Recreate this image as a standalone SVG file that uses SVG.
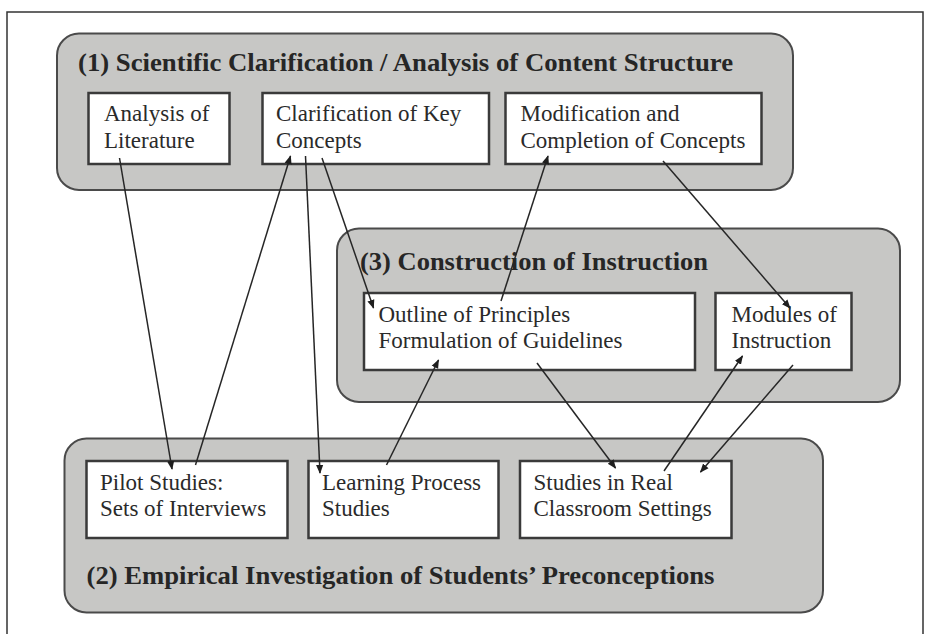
<svg xmlns="http://www.w3.org/2000/svg" width="935" height="634" viewBox="0 0 935 634">
<defs>
<style>
.grp{fill:#c7c7c5;stroke:#4a4a4a;stroke-width:2}
.box{fill:#ffffff;stroke:#3a3a3a;stroke-width:2.5}
.t{font-family:"Liberation Serif","Times New Roman",serif;font-size:23px;fill:#2a2a2a}
.h{font-family:"Liberation Serif","Times New Roman",serif;font-size:26px;font-weight:bold;fill:#262626}
.c{fill:none;stroke:#262626;stroke-width:1.5}
</style>
<marker id="ah" viewBox="0 0 10 10" refX="9" refY="5" markerWidth="9" markerHeight="9" markerUnits="userSpaceOnUse" orient="auto">
<path d="M0,1 L10,5 L0,9 z" fill="#1e1e1e"/>
</marker>
</defs>
<rect x="0" y="0" width="935" height="634" fill="#ffffff"/>
<path d="M7,634 V12 H923 V634" fill="none" stroke="#333" stroke-width="1.5"/>

<g id="group1">
<rect class="grp" x="57" y="33.5" width="736" height="156.5" rx="22"/>
<text class="h" x="78" y="71" textLength="655" lengthAdjust="spacingAndGlyphs">(1) Scientific Clarification / Analysis of Content Structure</text>
</g>
<g id="group3">
<rect class="grp" x="337" y="228.5" width="563" height="173.5" rx="22"/>
<text class="h" x="360" y="270" textLength="348" lengthAdjust="spacingAndGlyphs">(3) Construction of Instruction</text>
</g>
<g id="group2">
<rect class="grp" x="64.5" y="438.5" width="758.5" height="174" rx="22"/>
<text class="h" x="86.5" y="584" textLength="628" lengthAdjust="spacingAndGlyphs">(2) Empirical Investigation of Students’ Preconceptions</text>
</g>

<g id="n-analysis">
<rect class="box" x="88.5" y="93" width="141" height="71"/>
<text class="t" x="104" y="121">Analysis of</text>
<text class="t" x="104" y="147.5">Literature</text>
</g>
<g id="n-clarification">
<rect class="box" x="262.5" y="93" width="226.5" height="71"/>
<text class="t" x="276" y="121">Clarification of Key</text>
<text class="t" x="276" y="147.5">Concepts</text>
</g>
<g id="n-modification">
<rect class="box" x="505.5" y="93" width="256" height="71"/>
<text class="t" x="520.5" y="121">Modification and</text>
<text class="t" x="520.5" y="147.5">Completion of Concepts</text>
</g>
<g id="n-outline">
<rect class="box" x="364" y="293" width="331" height="77"/>
<text class="t" x="378.5" y="321.5">Outline of Principles</text>
<text class="t" x="378.5" y="347.8">Formulation of Guidelines</text>
</g>
<g id="n-modules">
<rect class="box" x="715.5" y="293" width="136" height="77"/>
<text class="t" x="731.5" y="321.5">Modules of</text>
<text class="t" x="731.5" y="347.8">Instruction</text>
</g>
<g id="n-pilot">
<rect class="box" x="86.5" y="461" width="201" height="77"/>
<text class="t" x="100" y="490">Pilot Studies:</text>
<text class="t" x="100" y="516">Sets of Interviews</text>
</g>
<g id="n-learning">
<rect class="box" x="308.5" y="461" width="190" height="77"/>
<text class="t" x="322" y="490">Learning Process</text>
<text class="t" x="322" y="516">Studies</text>
</g>
<g id="n-classroom">
<rect class="box" x="520" y="461" width="211.5" height="77"/>
<text class="t" x="533.5" y="490">Studies in Real</text>
<text class="t" x="533.5" y="516">Classroom Settings</text>
</g>

<g id="connectors">
<line class="c" x1="119.5" y1="158" x2="172" y2="469" marker-end="url(#ah)"/>
<line class="c" x1="195.5" y1="465" x2="290.5" y2="156" marker-end="url(#ah)"/>
<line class="c" x1="305.5" y1="156" x2="320" y2="473" marker-end="url(#ah)"/>
<line class="c" x1="322" y1="158" x2="373.5" y2="308" marker-end="url(#ah)"/>
<line class="c" x1="501" y1="301" x2="548" y2="156" marker-end="url(#ah)"/>
<line class="c" x1="663" y1="161" x2="790" y2="308" marker-end="url(#ah)"/>
<line class="c" x1="386.5" y1="465" x2="438.5" y2="360" marker-end="url(#ah)"/>
<line class="c" x1="537" y1="363" x2="615.5" y2="468" marker-end="url(#ah)"/>
<line class="c" x1="664" y1="471" x2="742.5" y2="356" marker-end="url(#ah)"/>
<line class="c" x1="793" y1="365" x2="700.5" y2="472" marker-end="url(#ah)"/>
</g>
</svg>
